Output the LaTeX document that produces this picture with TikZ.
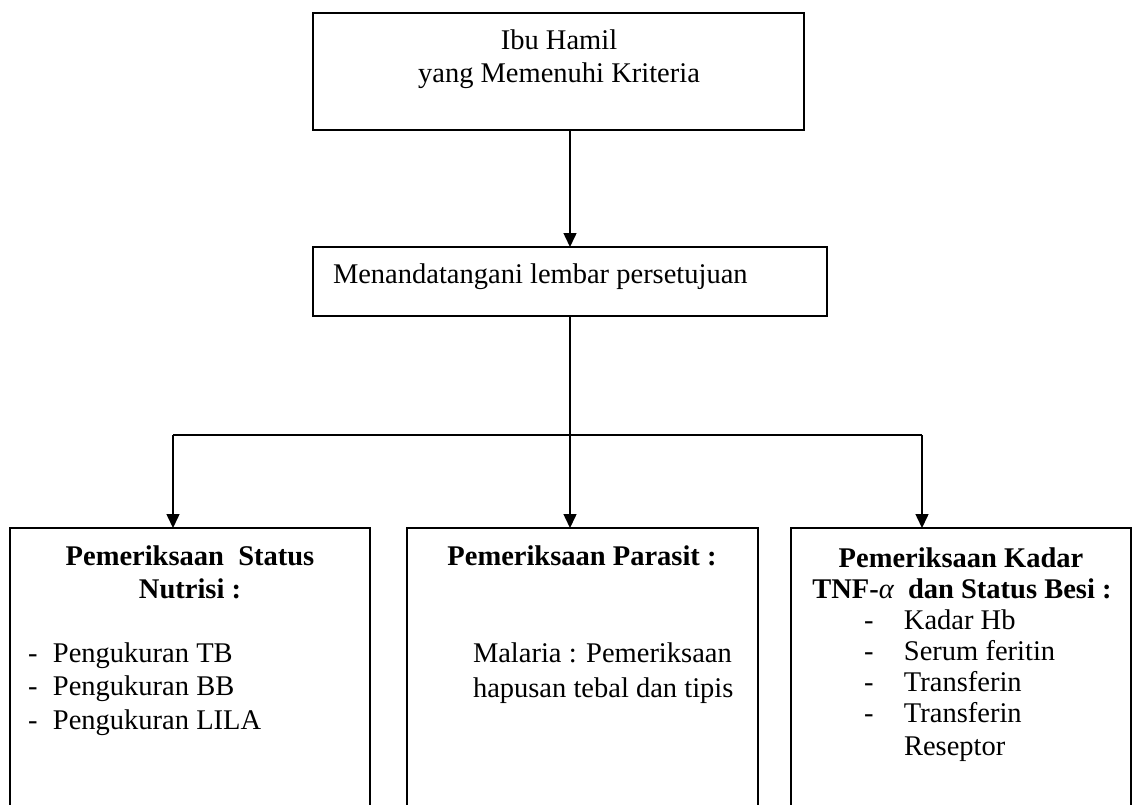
\documentclass[tikz,border=0pt]{standalone}
\usepackage{fontspec}
\setmainfont{Liberation Serif}
\usetikzlibrary{arrows.meta}
\begin{document}
\begin{tikzpicture}[x=1pt,y=-1pt,
  box/.style={draw,line width=1.6pt,inner sep=0pt,outer sep=0pt,rectangle},
  txt/.style={inner sep=0pt,outer sep=0pt,font=\fontsize{28.5}{33}\selectfont},
  btxt/.style={inner sep=0pt,outer sep=0pt,font=\fontsize{28.5}{33}\selectfont\bfseries},
  conn/.style={line width=1.5pt},
  arr/.style={conn,-{Triangle[width=13pt,length=14pt]}}]
\clip (0,0) rectangle (1132,804);
\fill[white] (0,0) rectangle (1132,804);
% boxes
\node[box,line width=2pt,minimum width=491pt,minimum height=117pt] (top) at (558.5,71.5) {};
\node[box,line width=2pt,minimum width=514pt,minimum height=69pt] (sign) at (570,281.5) {};
\node[box,minimum width=360pt,minimum height=352pt] (left) at (190,704) {};
\node[box,minimum width=351pt,minimum height=352pt] (mid) at (582.5,704) {};
\node[box,minimum width=340pt,minimum height=352pt] (right) at (961,704) {};
% connectors
\coordinate (jl) at (173,435);
\coordinate (jr) at (922,435);
\draw[arr] (top.south -| sign.north) -- (sign.north);
\draw[arr] (sign.south) -- (sign.south |- mid.north);
\draw[conn] (jl) -- (jr);
\draw[arr] (jl) -- (jl |- left.north);
\draw[arr] (jr) -- (jr |- right.north);
% texts
\node[txt,anchor=base] (t1) at (559,49) {Ibu Hamil};
\node[txt,anchor=base] (t2) at (559,82) {yang Memenuhi Kriteria};
\node[txt,anchor=base west] (s1) at (333,283) {Menandatangani lembar persetujuan};
\node[btxt,anchor=base] (l1) at (190,565) {Pemeriksaan\ \ Status};
\node[btxt,anchor=base] (l2) at (190,598) {Nutrisi :};
\node[txt,anchor=base west] (l3) at (28,662) {\makebox[25pt][l]{-}Pengukuran TB};
\node[txt,anchor=base west] (l4) at (28,695) {\makebox[25pt][l]{-}Pengukuran BB};
\node[txt,anchor=base west] (l5) at (28,729) {\makebox[25pt][l]{-}Pengukuran LILA};
\node[btxt,anchor=base] (m1) at (582,565) {Pemeriksaan Parasit :};
\node[txt,anchor=base west] (m2) at (473,662) {Malaria : Pemeriksaan};
\node[txt,anchor=base west] (m3) at (473,697) {hapusan tebal dan tipis};
\node[btxt,anchor=base] (r1) at (961,567) {Pemeriksaan Kadar};
\node[btxt,anchor=base] (r2) at (962,598) {TNF-{\mdseries\itshape α}\ \ dan Status Besi :};
\node[txt,anchor=base west] (r3) at (864,629) {\makebox[40pt][l]{-}Kadar Hb};
\node[txt,anchor=base west] (r4) at (864,660) {\makebox[40pt][l]{-}Serum feritin};
\node[txt,anchor=base west] (r5) at (864,691) {\makebox[40pt][l]{-}Transferin};
\node[txt,anchor=base west] (r6) at (864,722) {\makebox[40pt][l]{-}Transferin};
\node[txt,anchor=base west] (r7) at (864,755) {\hspace*{40pt}Reseptor};
\end{tikzpicture}
\end{document}
